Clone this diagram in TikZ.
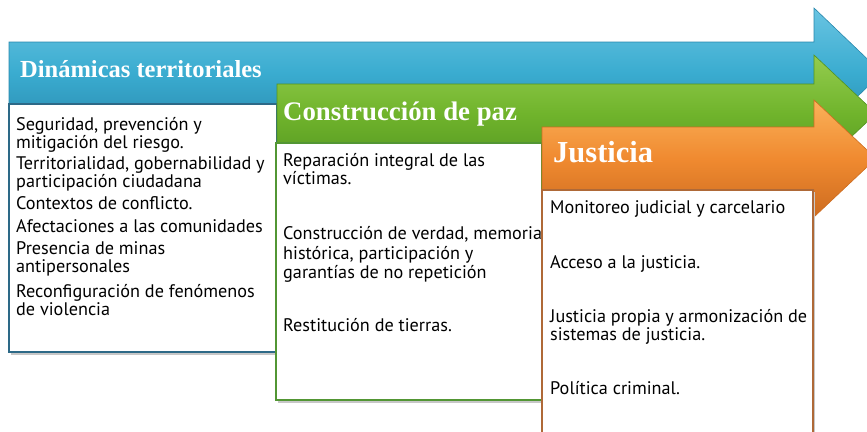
\documentclass[tikz,border=0pt]{standalone}
\usepackage{fontspec}
\setmainfont{PT Sans}
\newfontfamily\titlefont{Liberation Serif}
\definecolor{blueM}{RGB}{58,172,208}
\definecolor{blueL}{RGB}{105,196,226}
\definecolor{blueD}{RGB}{40,135,172}
\definecolor{greenM}{RGB}{112,180,44}
\definecolor{greenL}{RGB}{148,204,78}
\definecolor{greenD}{RGB}{82,148,32}
\definecolor{orangeM}{RGB}{240,138,48}
\definecolor{orangeL}{RGB}{250,178,90}
\definecolor{orangeD}{RGB}{205,108,32}
\definecolor{blueB}{RGB}{45,105,135}
\definecolor{greenB}{RGB}{82,150,52}
\definecolor{orangeB}{RGB}{175,105,55}
\begin{document}
\begin{tikzpicture}[x=1pt,y=-1pt,
  arrowshape/.style={line width=0.6pt},
  textbox/.style={fill=white, line width=1.6pt},
  shadowbox/.style={fill=black!22},
  title/.style={anchor=base west, inner sep=0, text=white, font=\titlefont\bfseries},
  bodytext/.style={anchor=base west, inner sep=0, font=\fontsize{18.2}{20}\selectfont}]
\useasboundingbox (0,0) rectangle (867,431);
\begin{scope}
\clip (0,0) rectangle (867,431);
% blue arrow
\path[arrowshape, draw=blueD, top color=blueL, bottom color=blueD, middle color=blueM]
  (9,42) -- (814,42) -- (814,8) -- (882,73) -- (814,138) -- (814,104) -- (9,104) -- cycle;
\node[title, font=\titlefont\bfseries\fontsize{24.5}{28}\selectfont] (t1) at (20,77) {Dinámicas territoriales};
% blue box
\fill[shadowbox] (11,106) rectangle (279,355);
\draw[textbox, draw=blueB] (9,104) rectangle (277,352);
\node[bodytext] (b1a) at (16,130) {Seguridad, prevención y};
\node[bodytext] (b1b) at (16,148) {mitigación del riesgo.};
\node[bodytext] (b2a) at (16,169) {Territorialidad, gobernabilidad y};
\node[bodytext] (b2b) at (16,187) {participación ciudadana};
\node[bodytext] (b3) at (16,209) {Contextos de conflicto.};
\node[bodytext] (b4) at (16,232) {Afectaciones a las comunidades};
\node[bodytext] (b5a) at (16,254) {Presencia de minas};
\node[bodytext] (b5b) at (16,272) {antipersonales};
\node[bodytext] (b6a) at (16,297) {Reconfiguración de fenómenos};
\node[bodytext] (b6b) at (16,315) {de violencia};
% green arrow
\path[arrowshape, draw=greenD, top color=greenL, bottom color=greenD, middle color=greenM]
  (277,84) -- (814,84) -- (814,55) -- (876,113.5) -- (814,172) -- (814,143) -- (277,143) -- cycle;
\node[title, font=\titlefont\bfseries\fontsize{26.8}{30}\selectfont] (t2) at (283,120) {Construcción de paz};
% green box
\fill[shadowbox] (278,145) rectangle (544,403);
\draw[textbox, draw=greenB] (276,143) rectangle (542,400);
\node[bodytext] (g1a) at (283,166) {Reparación integral de las};
\node[bodytext] (g1b) at (283,184) {víctimas.};
\node[bodytext] (g2a) at (283,239) {Construcción de verdad, memoria};
\node[bodytext] (g2b) at (283,259) {histórica, participación y};
\node[bodytext] (g2c) at (283,278) {garantías de no repetición};
\node[bodytext] (g3) at (283,331) {Restitución de tierras.};
% orange arrow
\path[arrowshape, draw=orangeD, top color=orangeL, bottom color=orangeD, middle color=orangeM]
  (542,127) -- (814,127) -- (814,100) -- (876,158.5) -- (814,217) -- (814,190) -- (542,190) -- cycle;
\node[title, font=\titlefont\bfseries\fontsize{30.5}{34}\selectfont] (t3) at (553,162) {Justicia};
% orange box
\fill[shadowbox] (544,192) rectangle (815,440);
\draw[textbox, draw=orangeB] (542,190) rectangle (813,440);
\node[bodytext] (o1) at (550,213) {Monitoreo judicial y carcelario};
\node[bodytext] (o2) at (550,268) {Acceso a la justicia.};
\node[bodytext] (o3a) at (550,322) {Justicia propia y armonización de};
\node[bodytext] (o3b) at (550,340) {sistemas de justicia.};
\node[bodytext] (o4) at (550,394) {Política criminal.};
\end{scope}
\end{tikzpicture}
\end{document}
